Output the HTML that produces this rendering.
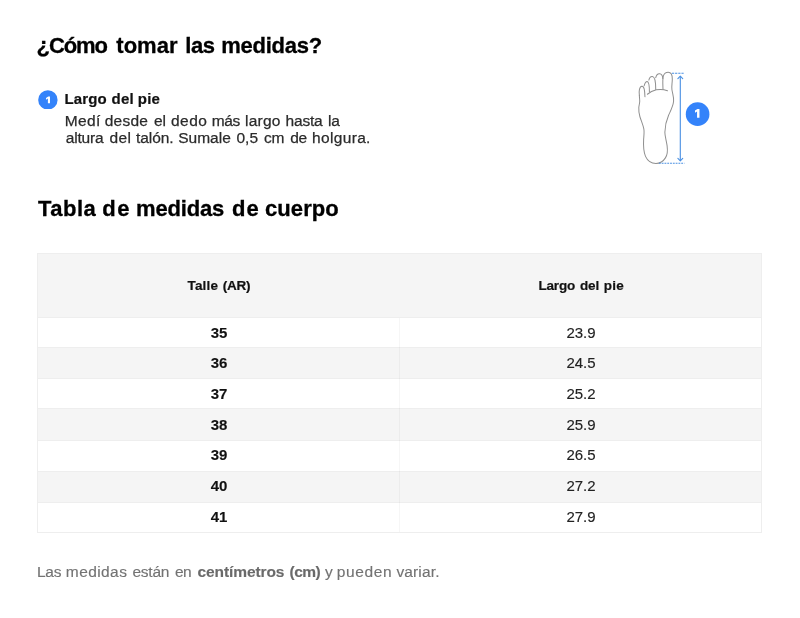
<!DOCTYPE html>
<html lang="es">
<head>
<meta charset="utf-8">
<title>Guía de talles</title>
<style>
*{box-sizing:border-box;margin:0;padding:0}
html,body{width:800px;height:618px;background:#fff;overflow:hidden}
body{will-change:transform;font-family:"Liberation Sans",sans-serif;color:#000;position:relative}
.abs{position:absolute;white-space:nowrap}
h1,h2{font-weight:700;font-size:22px;line-height:26px;color:#000;-webkit-text-stroke:0.3px #000}
#t1{left:0;top:32.5px}
#t2{left:0;top:195.5px}
.w span{position:absolute;top:0;white-space:nowrap}
#badge{left:37.8px;top:89.5px;width:19.8px;height:19.8px}
#st{left:0;top:90px;font-size:15px;font-weight:700;line-height:18px;color:#111;-webkit-text-stroke:0.2px #111}
#desc,#desc2{left:0;top:112.3px;font-size:15.5px;line-height:17px;color:#2b2b2b;-webkit-text-stroke:0.25px #2b2b2b}
#desc2{top:129.3px}
#tbl{position:absolute;left:37px;top:253px;width:725px;height:280px;overflow:hidden;border:1px solid #eeeeee;background:#fff}
.row{position:absolute;left:0;width:724px;border-top:1px solid #eeeeee;display:flex;align-items:center}
.row div{width:50%;text-align:center;font-size:15px;color:#222;-webkit-text-stroke:0.15px #222;line-height:18px;position:relative;top:-1px}
.row div:first-child{font-weight:700;color:#111}
.row.g{background:#f5f5f5}
.row.h{top:0;height:63px;border-top:0}
.row.u div{top:0}
#vsep{position:absolute;left:361px;top:64px;width:1px;height:214px;background:rgba(0,0,0,.035)}
#hd{position:absolute;left:0;top:22.9px;font-size:13.5px;font-weight:700;color:#111;line-height:18px;-webkit-text-stroke:0.2px #111}
#note{left:0;top:562.8px;font-size:15.5px;line-height:18px;color:#737373;-webkit-text-stroke:0.15px #737373}
#note .b{color:#6a6a6a;font-weight:700}
#foot{left:625px;top:60px;width:100px;height:115px}
</style>
</head>
<body>
<h1 class="abs w" id="t1"><span style="left:36.6px;letter-spacing:-1.1px">¿Cómo</span><span style="left:116.3px;letter-spacing:0.03px">tomar</span><span style="left:185.3px;letter-spacing:-0.4px">las</span><span style="left:221.2px;letter-spacing:-0.23px">medidas?</span></h1>
<svg class="abs" id="badge" viewBox="0 0 200 200"><circle cx="100" cy="100" r="98" fill="#3483fa"/><path d="M121 65 H103 L81 80 V98 L100 86 V135 H121 Z" fill="#fff"/></svg>
<div class="abs w" id="st"><span style="left:64.5px;letter-spacing:0.15px">Largo</span><span style="left:111.6px;letter-spacing:0.15px">del</span><span style="left:137.7px;letter-spacing:0.3px">pie</span></div>
<div class="abs w" id="desc"><span style="left:64.7px;letter-spacing:0.37px">Medí</span><span style="left:104.7px;letter-spacing:0.25px">desde</span><span style="left:153.9px;letter-spacing:-0.1px">el</span><span style="left:171.1px;letter-spacing:0.4px">dedo</span><span style="left:211.8px;letter-spacing:-0.4px">más</span><span style="left:245.1px;letter-spacing:0.23px">largo</span><span style="left:285.5px;letter-spacing:-0.17px">hasta</span><span style="left:328.1px;letter-spacing:-0.4px">la</span></div>
<div class="abs w" id="desc2"><span style="left:65.7px;letter-spacing:-0.16px">altura</span><span style="left:109.6px;letter-spacing:0.3px">del</span><span style="left:136px;letter-spacing:-0.08px">talón.</span><span style="left:178.3px;letter-spacing:-0.02px">Sumale</span><span style="left:236.4px;letter-spacing:0.1px">0,5</span><span style="left:263.9px;letter-spacing:-0.2px">cm</span><span style="left:290.3px;letter-spacing:-0.4px">de</span><span style="left:312px;letter-spacing:0.34px">holgura.</span></div>
<svg class="abs" id="foot" viewBox="0 0 537 618">
<g fill="none" stroke="#8f8f8f" stroke-width="5.4" stroke-linecap="round" stroke-linejoin="round">
<path d="M204 158 C203 130 201 102 206 85 C211 71 222 66 232 66 C247 66 254 78 254 102 C254 126 249 142 252 160 C256 185 263 200 261 222 C258 250 244 275 234 297 C224 320 215 345 214 388 C214 410 222 432 226 460 C230 490 228 510 217 526 C207 542 190 556 166 556 C140 556 120 540 110 518 C98 490 98 460 100 425 C102 400 104 385 101 370 C97 350 88 330 80 305 C74 285 73 270 74 255 C75 243 79 232 79 222 C79 210 77 200 77 190"/>
<path d="M77 190 C74 170 76 143 91 141 C103 140 106 165 107 197"/>
<path d="M103 138 C106 124 111 115 119 115 C128 116 131 135 131 171"/>
<path d="M128 108 C131 96 138 88 147 89 C158 90 165 110 165 158"/>
<path d="M165 95 C168 82 176 73 186 74 C196 75 202 85 203 100"/>
<path d="M120 184 C135 172 150 165 168 160 C185 157 210 158 228 165"/>
</g>
<g fill="none" stroke="#4a90e2" stroke-width="5">
<path d="M252 71 H318" stroke-dasharray="12 5" stroke-width="5.5"/>
<path d="M182 555 H319" stroke-dasharray="10 5" stroke-width="5.5"/>
<path d="M297 92 V538" stroke-width="6"/>
<path d="M284 100 L297 87 L310 100" stroke-width="6" stroke-linecap="round" stroke-linejoin="round"/>
<path d="M284 529 L297 542 L310 529" stroke-width="6" stroke-linecap="round" stroke-linejoin="round"/>
</g>
<circle cx="390" cy="291" r="63.5" fill="#3483fa"/>
<path d="M400 263 H389 L376 272 V284 L387 277 V311 H400 Z" fill="#fff"/>
</svg>
<h2 class="abs w" id="t2"><span style="left:38px;letter-spacing:0.5px">Tabla</span><span style="left:102.3px;letter-spacing:1.4px">de</span><span style="left:136px;letter-spacing:-0.17px">medidas</span><span style="left:232px;letter-spacing:1.0px">de</span><span style="left:265px;letter-spacing:0.08px">cuerpo</span></h2>
<div id="tbl">
<div class="row h g"></div>
<div class="w" id="hd"><span style="left:149.5px;letter-spacing:0.17px">Talle</span><span style="left:184.8px;letter-spacing:-0.27px">(AR)</span><span style="left:500.4px;letter-spacing:-0.17px">Largo</span><span style="left:541.9px;letter-spacing:-0.1px">del</span><span style="left:565.8px;letter-spacing:0.25px">pie</span></div>
<div class="row u" style="top:63px;height:30px"><div>35</div><div>23.9</div></div>
<div class="row g u" style="top:93px;height:31px"><div>36</div><div>24.5</div></div>
<div class="row u" style="top:124px;height:30px"><div>37</div><div>25.2</div></div>
<div class="row g u" style="top:154px;height:32px"><div>38</div><div>25.9</div></div>
<div class="row" style="top:186px;height:31px"><div>39</div><div>26.5</div></div>
<div class="row g" style="top:217px;height:31px"><div>40</div><div>27.2</div></div>
<div class="row" style="top:248px;height:30px"><div>41</div><div>27.9</div></div>
<div id="vsep"></div>
</div>
<div class="abs w" id="note"><span style="left:36.9px;letter-spacing:-0.2px">Las</span><span style="left:65.8px;letter-spacing:0.42px">medidas</span><span style="left:132.4px;letter-spacing:-0.23px">están</span><span style="left:174.9px;letter-spacing:-0.4px">en</span><span class="b" style="left:197.6px;letter-spacing:-0.11px">centímetros</span><span class="b" style="left:289.6px;letter-spacing:-0.53px">(cm)</span><span style="left:325px;letter-spacing:0px">y</span><span style="left:336.8px;letter-spacing:0.62px">pueden</span><span style="left:396.4px;letter-spacing:0.15px">variar.</span></div>
</body>
</html>
